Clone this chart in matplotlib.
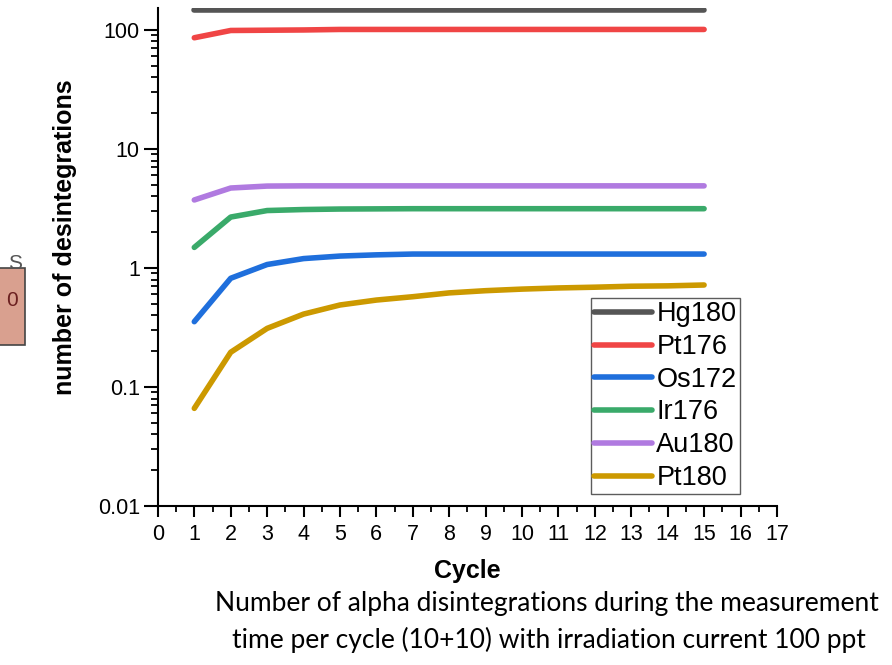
import matplotlib
matplotlib.use('Agg')
import matplotlib.pyplot as plt
from matplotlib.patches import Rectangle
from matplotlib.ticker import MultipleLocator, LogLocator, NullFormatter, FixedLocator

# data
cycles = [1, 2, 3, 4, 5, 6, 7, 8, 9, 10, 11, 12, 13, 14, 15]
hg180 = [146] * 15
pt176 = [86, 99, 99.5, 100, 101, 101, 101, 101, 101, 101, 101, 101, 101, 101, 101]
os172 = [0.354, 0.82, 1.07, 1.2, 1.26, 1.29, 1.31, 1.31, 1.31, 1.31, 1.31, 1.31, 1.31, 1.31, 1.31]
ir176 = [1.49, 2.68, 3.04, 3.1, 3.13, 3.14, 3.15, 3.15, 3.15, 3.15, 3.15, 3.15, 3.15, 3.15, 3.15]
au180 = [3.73, 4.7, 4.88, 4.9, 4.9, 4.9, 4.9, 4.9, 4.9, 4.9, 4.9, 4.9, 4.9, 4.9, 4.9]
pt180 = [0.0662, 0.196, 0.311, 0.41, 0.489, 0.538, 0.574, 0.618, 0.645, 0.665, 0.68, 0.69, 0.703, 0.708, 0.72]

names = ['Hg180', 'Pt176', 'Os172', 'Ir176', 'Au180', 'Pt180']
series = [hg180, pt176, os172, ir176, au180, pt180]
colors = ['#555555', '#f04545', '#1f6fdc', '#3aaa6a', '#b07ae0', '#cc9900']
x_ticks = list(range(0, 18))

plt.rcParams['font.family'] = ['Liberation Sans', 'DejaVu Sans']

fig = plt.figure(figsize=(8.92, 6.65), dpi=100)
ax = fig.add_axes([0.177, 0.239, 0.694, 0.749])

for name, vals, c in zip(names, series, colors):
    ax.plot(cycles, vals, color=c, lw=4, solid_capstyle='round', label=name)

ax.set_yscale('log')
ax.set_ylim(0.01, 153)
ax.set_xlim(0, 17)
ax.xaxis.set_major_locator(FixedLocator(x_ticks))
ax.xaxis.set_minor_locator(MultipleLocator(0.5))
ax.yaxis.set_minor_locator(LogLocator(base=10, subs=range(2, 10), numticks=10))
ax.yaxis.set_minor_formatter(NullFormatter())
ax.set_yticks([0.01, 0.1, 1, 10, 100])
ax.set_yticklabels(['0.01', '0.1', '1', '10', '100'])

for s in ['top', 'right']:
    ax.spines[s].set_visible(False)
for s in ['left', 'bottom']:
    ax.spines[s].set_linewidth(1.5)

ax.tick_params(axis='both', which='major', direction='out', width=1.5, labelsize=15.5)
ax.tick_params(axis='y', which='major', length=10, pad=3)
ax.tick_params(axis='y', which='minor', length=5, width=1.3)
ax.tick_params(axis='x', which='major', length=8, pad=5)
ax.tick_params(axis='x', which='minor', length=4, width=1.3)

ax.set_xlabel('Cycle', fontsize=18, fontweight='bold', labelpad=10)
ax.set_ylabel('number of desintegrations', fontsize=18, fontweight='bold')
ax.yaxis.set_label_coords(-0.131, 0.54)

leg = ax.legend(loc='lower right', bbox_to_anchor=(0.94, 0.024), fontsize=19.5,
                frameon=True, fancybox=False, edgecolor='#333333',
                handlelength=2.15, handletextpad=0.15, borderpad=0.12,
                labelspacing=0.25, borderaxespad=0, handleheight=0.6)
leg.get_frame().set_linewidth(1.0)

# caption under the chart
cap_font = ['Lato', 'DejaVu Sans']
fig.text(0.613, 0.092, 'Number of alpha disintegrations during the measurement',
         ha='center', va='center', fontsize=19, family=cap_font)
fig.text(0.615, 0.037, 'time per cycle (10+10) with irradiation current 100 ppt',
         ha='center', va='center', fontsize=19, family=cap_font)

# cropped fragment at the left edge
fig.patches.append(Rectangle((-0.01, 1 - 345 / 665), 0.038, 77 / 665,
                             transform=fig.transFigure, facecolor='#d9a08f',
                             edgecolor='#444444', lw=1.2))
fig.text(0.013, 1 - 300 / 665, '0', color='#6b2020', fontsize=15, ha='center', va='center')
fig.text(0.017, 1 - 264 / 665, 'S', color='#555555', fontsize=15, ha='center', va='center')

plt.savefig('out.png', dpi=100)
